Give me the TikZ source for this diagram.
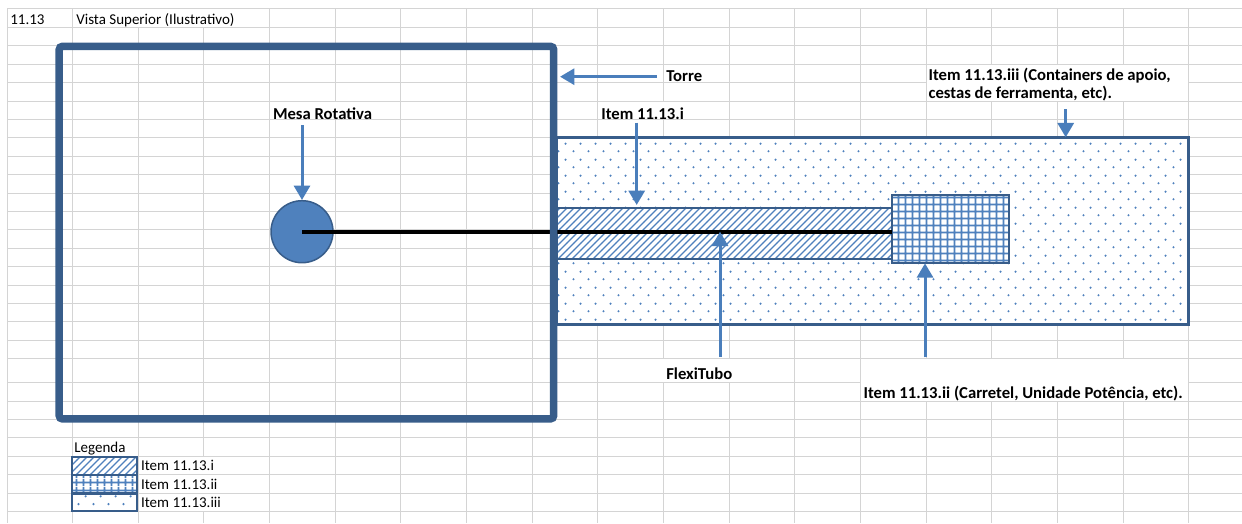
\documentclass[tikz,border=0pt]{standalone}
\usepackage{fontspec}
\setmainfont{Carlito}
\usetikzlibrary{arrows.meta,patterns}

\definecolor{azulEscuro}{HTML}{385D8A}
\definecolor{azulMedio}{HTML}{4F81BD}
\definecolor{azulSeta}{HTML}{4A7EBB}
\definecolor{cinzaGrade}{HTML}{D4D4D4}

% Preenchimentos: pontos (Item iii), listras (Item i), xadrez (Item ii)
\pgfdeclarepatternformonly{pontos}{\pgfqpoint{0pt}{0pt}}{\pgfqpoint{9pt}{9.6pt}}{\pgfqpoint{9pt}{9.6pt}}{%
  \pgfpathcircle{\pgfqpoint{2.25pt}{2.4pt}}{0.75pt}%
  \pgfpathcircle{\pgfqpoint{6.75pt}{7.2pt}}{0.75pt}%
  \pgfusepath{fill}}
\pgfdeclarepatternformonly{listras}{\pgfqpoint{-1pt}{-1pt}}{\pgfqpoint{5.2pt}{5.2pt}}{\pgfqpoint{4.2pt}{4.2pt}}{%
  \pgfsetlinewidth{0.7pt}%
  \pgfpathmoveto{\pgfqpoint{0pt}{0pt}}%
  \pgfpathlineto{\pgfqpoint{4.3pt}{4.3pt}}%
  \pgfusepath{stroke}}
\pgfdeclarepatternformonly{xadrez}{\pgfqpoint{0pt}{0pt}}{\pgfqpoint{4.44pt}{4.44pt}}{\pgfqpoint{4.44pt}{4.44pt}}{%
  \pgfsetlinewidth{1.1pt}%
  \pgfpathmoveto{\pgfqpoint{0pt}{2.22pt}}\pgfpathlineto{\pgfqpoint{4.44pt}{2.22pt}}%
  \pgfpathmoveto{\pgfqpoint{2.22pt}{0pt}}\pgfpathlineto{\pgfqpoint{2.22pt}{4.44pt}}%
  \pgfusepath{stroke}}

\tikzset{
  linhaGrade/.style={draw=cinzaGrade, line width=0.6pt},
  mascara/.style={fill=white, draw=none},
  rotulo/.style={font=\fontsize{10}{11.2}\selectfont\bfseries, inner sep=0pt, anchor=base west},
  celula/.style={font=\fontsize{9}{11}\selectfont, inner sep=0pt, anchor=base west},
  seta/.style={draw=azulSeta, line width=1.8pt, -{Triangle[length=8.6pt,width=9.6pt]}},
  caixaItem/.style={draw=azulEscuro, rectangle, inner sep=0pt, outer sep=0pt, anchor=north west,
    preaction={fill=white}, pattern color=azulMedio},
}

\begin{document}
\begin{tikzpicture}[x=0.6pt, y=-0.6pt]

    \useasboundingbox (0,0) rectangle (1242,523);

    % Grade da planilha (1 unidade = 1 px; colunas 65.65, linhas 18.4)
    \foreach \j in {0,...,18}
        \draw[linhaGrade] ({7+65.65*\j},9) -- ({7+65.65*\j},523);
    \foreach \k in {0,...,19}
        \draw[linhaGrade] (7,{9+18.4*\k}) -- (1242,{9+18.4*\k});
    \foreach \k in {0,...,7}
        \draw[linhaGrade] (7,{382.6+18.4*\k}) -- (1242,{382.6+18.4*\k});

    % Celulas com texto transbordando / mescladas
    \fill[mascara] (73.2,9.5) rectangle (269.0,26.9);
    \fill[mascara] (270.1,101.5) rectangle (400.4,118.9);
    \fill[mascara] (598.4,101.5) rectangle (728.7,118.9);
    \fill[mascara] (926.6,64.7) rectangle (1188.2,100.5);
    \fill[mascara] (598.4,359.1) rectangle (794.3,382.1);
    \fill[mascara] (861.0,359.1) rectangle (1188.2,400.5);
    \fill[mascara] (138.8,456.7) rectangle (269.1,474.1);
    \fill[mascara] (138.8,475.1) rectangle (269.1,492.5);
    \fill[mascara] (138.8,493.5) rectangle (269.1,510.9);

    % Item 11.13.iii (area pontilhada)
    \node[caixaItem, line width=1.5pt, pattern=pontos,
        minimum width=379.0pt, minimum height=112.2pt] (itemIII) at (557,137.3) {};

    % Item 11.13.i (FlexiTubo, listrado)
    \node[caixaItem, line width=1pt, pattern=listras,
        minimum width=200.8pt, minimum height=30.4pt] (itemI) at (557,208.3) {};

    % Item 11.13.ii (carretel, xadrez)
    \node[caixaItem, line width=1.2pt, pattern=xadrez,
        minimum width=70.6pt, minimum height=41.0pt] (itemII) at (891.7,195) {};

    % Mesa rotativa e linha do tubo
    \node[circle, fill=azulMedio, draw=azulEscuro, line width=0.9pt,
        minimum size=37.2pt, inner sep=0pt] (mesa) at (302,231.7) {};
    \draw[black, line width=2.4pt] (mesa.center) -- (mesa.center -| itemII.west);

    % Torre
    \node[draw=azulEscuro, line width=4.5pt, rounded corners=2pt, anchor=north west,
        minimum width=296.7pt, minimum height=223.6pt, inner sep=0pt, outer sep=0pt] (torre) at (59.2,46.3) {};

    % Setas
    \coordinate (mesaCauda) at (302,125);
    \coordinate (torreCauda) at (657,76.7);
    \coordinate (itemICauda) at (636.7,122.7);
    \coordinate (itemIIICauda) at (1065.7,109.3);
    \coordinate (flexiCauda) at (720,357);
    \coordinate (itemIICauda) at (925,357.3);

    \draw[seta] (mesaCauda) -- (mesa.north);
    \draw[seta, shorten >=3.8pt] (torreCauda) -- (torreCauda -| torre.east);
    \draw[seta, shorten >=2pt] (itemICauda) -- (itemICauda |- itemI.north);
    \draw[seta] (itemIIICauda) -- (itemIIICauda |- itemIII.north);
    \draw[seta] (flexiCauda) -- (flexiCauda |- mesa.center);
    \draw[seta] (itemIICauda) -- (itemIICauda |- itemII.south);

    % Rotulos
    \node[rotulo] (torreRot) at (666,82) {Torre};
    \node[rotulo] (mesaRot) at (272.7,119) {Mesa Rotativa};
    \node[rotulo] (itemIRot) at (601,119.3) {Item 11.13.i};
    \node[rotulo, align=left] (itemIIIRot) at (928.3,99)
        {Item 11.13.iii (Containers de apoio,\\cestas de ferramenta, etc).};
    \node[rotulo] (flexiRot) at (666,379.5) {FlexiTubo};
    \node[rotulo] (itemIIRot) at (863.3,398.5) {Item 11.13.ii (Carretel, Unidade Potência, etc).};

    % Cabecalho
    \node[celula] (secao) at (10,24.5) {11.13};
    \node[celula] (titulo) at (76,24.5) {Vista Superior (Ilustrativo)};

    % Legenda
    \node[celula] (legenda) at (74,452.7) {Legenda};
    \node[caixaItem, line width=1.2pt, pattern=listras,
        minimum width=39pt, minimum height=10.8pt] (legI) at (72,456.5) {};
    \node[caixaItem, line width=1.2pt, pattern=xadrez,
        minimum width=39pt, minimum height=10.8pt] (legII) at (72,474.8) {};
    \node[caixaItem, line width=1.2pt, pattern=pontos,
        minimum width=39pt, minimum height=10.2pt] (legIII) at (72,493.5) {};
    \node[celula] (legIRot) at (140.7,470.7) {Item 11.13.i};
    \node[celula] (legIIRot) at (140.7,489) {Item 11.13.ii};
    \node[celula] (legIIIRot) at (140.7,507.5) {Item 11.13.iii};

\end{tikzpicture}
\end{document}
